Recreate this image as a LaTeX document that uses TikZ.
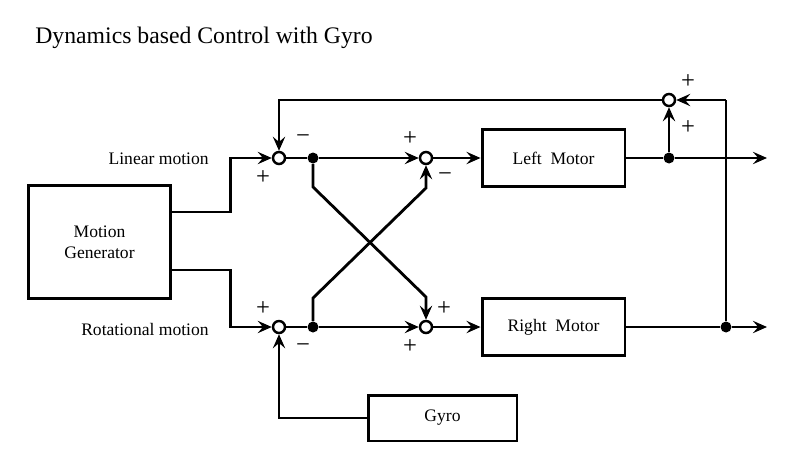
\documentclass[tikz,border=0pt]{standalone}
\usepackage{fontspec}
\setmainfont{Liberation Serif}
\usetikzlibrary{arrows.meta}
\tikzset{
	blk/.style={draw, line width=1.7pt, inner sep=0pt, align=center, font=\fontsize{10}{12}\selectfont},
	sum/.style={draw, circle, fill=white, line width=1.4pt, minimum size=0.24cm, inner sep=0pt},
	dot/.style={circle, fill=black, minimum size=0.22cm, inner sep=0pt},
	sgn/.style={font=\fontsize{14}{14}\selectfont, inner sep=0pt},
	lbl/.style={font=\fontsize{10}{12}\selectfont, inner sep=0pt},
	wire/.style={line width=1.6pt},
	flow/.style={wire, -{Stealth[length=8pt,width=7pt,inset=3pt]}},
}

\begin{document}
\begin{tikzpicture}[x=0.02cm, y=-0.02cm]
			%%%%% START %%%%%
			\useasboundingbox (0,0) rectangle (800,466);
			
			\node[anchor=west, inner sep=0pt, font=\fontsize{13.5}{16}\selectfont] (title) at (35,38) {Dynamics based Control with Gyro};
			
			\node[blk, minimum width=2.86cm, minimum height=2.28cm] (mg) at (99.5,242) {Motion\\Generator};
			\node[blk, minimum width=2.86cm, minimum height=1.14cm] (lm) at (553.5,158) {Left~ Motor};
			\node[blk, minimum width=2.86cm, minimum height=1.14cm] (rm) at (553.5,327) {Right~ Motor};
			\node[blk, minimum width=2.98cm, minimum height=0.92cm] (gy) at (442.5,418) {Gyro};
			
			\node[lbl, anchor=east] (lin) at (209,159) {Linear motion};
			\node[lbl, anchor=east] (rot) at (209,329) {Rotational motion};
			
			\node[sum] (s1) at (279,158) {};
			\node[dot] (j1) at (313,158) {};
			\node[sum] (s2) at (426,158) {};
			\node[dot] (j3) at (669,158) {};
			\node[sum] (s3) at (669,100) {};
			
			\node[sum] (s4) at (279,327) {};
			\node[dot] (j2) at (313,327) {};
			\node[sum] (s5) at (426,327) {};
			\node[dot] (j4) at (726,327) {};
			
			\coordinate (o1) at (767,158);
			\coordinate (o2) at (767,327);
			\coordinate (fb) at (726,100);
			
			% upper channel
			\draw[flow] ([yshift=0.6cm]mg.east) -- ++(58,0) |- (s1);
			\draw[wire] (s1) -- (j1);
			\draw[flow] (j1) -- (s2);
			\draw[flow] (s2) -- (lm);
			\draw[wire] (lm) -- (j3);
			\draw[flow] (j3) -- (o1);
			\draw[flow] (j3) -- (s3);
			
			% lower channel
			\draw[flow] ([yshift=-0.56cm]mg.east) -- ++(58,0) |- (s4);
			\draw[wire] (s4) -- (j2);
			\draw[flow] (j2) -- (s5);
			\draw[flow] (s5) -- (rm);
			\draw[wire] (rm) -- (j4);
			\draw[flow] (j4) -- (o2);
			
			% feedback
			\draw[wire] (j4) -- (fb);
			\draw[flow] (fb) -- (s3);
			\draw[flow] (s3) -| (s1);
			\draw[flow] (gy) -| (s4);
			
			% cross coupling
			\draw[flow] (j1) -- (313,187) -- (426,297) -- (s5);
			\draw[flow] (j2) -- (313,298) -- (426,188) -- (s2);
			
			% signs
			\node[sgn] at ([shift={(24,-19)}]s1) {−};
			\node[sgn] at ([shift={(-16,20)}]s1) {+};
			\node[sgn] at ([shift={(-16,-19)}]s2) {+};
			\node[sgn] at ([shift={(19,19)}]s2) {−};
			\node[sgn] at ([shift={(19,-18)}]s3) {+};
			\node[sgn] at ([shift={(19,28)}]s3) {+};
			\node[sgn] at ([shift={(-16,-18)}]s4) {+};
			\node[sgn] at ([shift={(24,21)}]s4) {−};
			\node[sgn] at ([shift={(18,-18)}]s5) {+};
			\node[sgn] at ([shift={(-16,20)}]s5) {+};
			
			%%%%% END %%%%%
		\end{tikzpicture}
\end{document}
